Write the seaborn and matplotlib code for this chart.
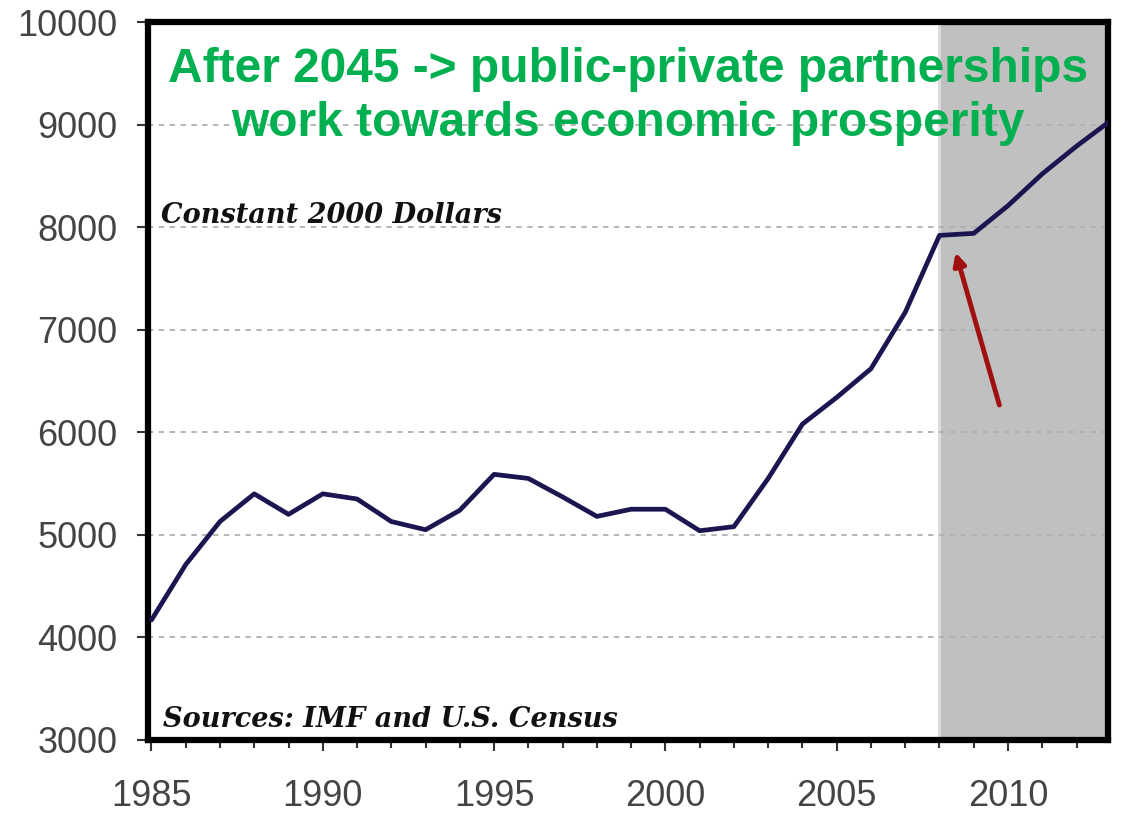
import matplotlib
matplotlib.use("Agg")
import matplotlib.pyplot as plt
import seaborn as sns
import pandas as pd
from matplotlib.ticker import MultipleLocator

years = list(range(1985, 2014))
values = [4170, 4710, 5130, 5400, 5200, 5400, 5350, 5130, 5050, 5240,
          5590, 5550, 5370, 5180, 5250, 5250, 5040, 5080, 5550, 6080,
          6340, 6620, 7170, 7920, 7940, 8210, 8520, 8790, 9040]
y_ticks = [3000, 4000, 5000, 6000, 7000, 8000, 9000, 10000]
x_ticks = [1985, 1990, 1995, 2000, 2005, 2010]
shade_start = 2008
headline = "After 2045 -> public-private partnerships\nwork towards economic prosperity"
note_top = "Constant 2000 Dollars"
note_bottom = "Sources: IMF and U.S. Census"

df = pd.DataFrame({"year": years, "value": values})

sns.set_style("white")
plt.rcParams['font.family'] = ['Liberation Sans', 'DejaVu Sans']

fig = plt.figure(figsize=(11.24, 8.18), dpi=100)
ax = fig.add_axes([0.1317, 0.0954, 0.8541, 0.8776])

ax.axvspan(shade_start, 2013.5, facecolor="#c0c0c0", edgecolor="#dcdcdc",
           linewidth=2, zorder=0)
for yv in y_ticks[1:-1]:
    ax.axhline(yv, color="#b0b0b0", linestyle=(0, (3, 3)), linewidth=1.3, zorder=1)

sns.lineplot(data=df, x="year", y="value", ax=ax, color="#1b1550",
             linewidth=3.4, zorder=3)

ax.set_xlim(1984.9, 2012.92)
ax.set_ylim(3000, 10000)
ax.set_xticks(x_ticks)
ax.xaxis.set_minor_locator(MultipleLocator(1))
ax.set_yticks(y_ticks)
ax.set_xlabel("")
ax.set_ylabel("")

for s in ax.spines.values():
    s.set_visible(True)
    s.set_color("black")
    s.set_linewidth(4.5)

ax.tick_params(axis="both", which="major", labelsize=26, labelcolor="#444444",
               color="#333333", direction="out", length=8, width=1.5,
               bottom=True, left=True)
ax.tick_params(axis="y", which="major", pad=14)
ax.tick_params(axis="x", which="major", pad=20)
ax.tick_params(axis="x", which="minor", direction="out", length=6, width=1.5,
               color="#333333", bottom=True)

ax.text(0.5, 0.965, headline, transform=ax.transAxes, ha="center", va="top",
        fontsize=34.5, fontweight="bold", color="#00b050", linespacing=1.25,
        family=["Liberation Sans", "DejaVu Sans"], zorder=5)
ax.text(0.013, 0.73, note_top, transform=ax.transAxes, ha="left", va="center",
        fontsize=19.5, fontweight="bold", fontstyle="italic", color="#111111",
        family=["DejaVu Serif", "Liberation Serif"], zorder=5)
ax.text(0.016, 0.028, note_bottom, transform=ax.transAxes, ha="left", va="center",
        fontsize=19.5, fontweight="bold", fontstyle="italic", color="#111111",
        family=["DejaVu Serif", "Liberation Serif"], zorder=5)

ax.annotate("", xy=(2008.45, 7780), xytext=(2009.77, 6240),
            arrowprops=dict(arrowstyle="-|>", color="#a01010", lw=3.5,
                            mutation_scale=18), zorder=4)

fig.savefig("out.png", dpi=100)
